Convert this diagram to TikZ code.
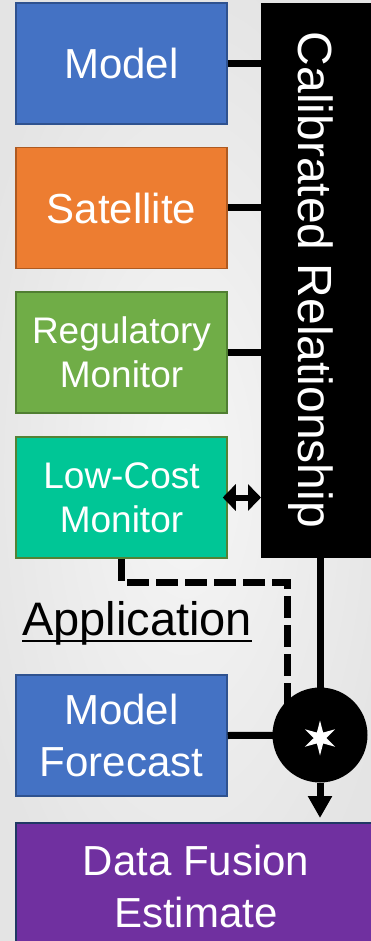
\documentclass[tikz,border=0pt]{standalone}
\usepackage{fontspec}
\setmainfont{Liberation Sans}
\usetikzlibrary{arrows.meta,shapes.geometric}
\definecolor{cblue}{HTML}{4472C4}
\definecolor{bblue}{HTML}{2F528F}
\definecolor{corange}{HTML}{ED7D31}
\definecolor{borange}{HTML}{AE5A21}
\definecolor{cgreen}{HTML}{70AD47}
\definecolor{bgreen}{HTML}{507E32}
\definecolor{cteal}{RGB}{0,198,150}
\definecolor{bteal}{HTML}{548235}
\definecolor{cpurple}{HTML}{7030A0}
\definecolor{bpurple}{HTML}{203864}
\definecolor{bginner}{RGB}{246,246,246}
\definecolor{bgouter}{RGB}{228,228,228}
\tikzset{
  box/.style={rectangle, minimum width=211pt, minimum height=121pt, line width=1.5pt, text=white, align=center, inner sep=0pt},
  bigtxt/.style={font=\fontsize{42}{52}\selectfont},
  smalltxt/.style={font=\fontsize{37}{44}\selectfont},
  conn/.style={line width=7pt, draw=black},
  dline/.style={line width=7pt, draw=black, dash pattern=on 22pt off 7pt},
}
\begin{document}
\begin{tikzpicture}[x=1pt,y=-1pt]
\useasboundingbox (0,0) rectangle (371,941);
\clip (0,0) rectangle (371,941);
\shade[inner color=bginner, outer color=bgouter] (-40,-40) rectangle (411,981);

% black bar
\node[fill=black, minimum width=112pt, minimum height=555pt, anchor=north west, inner sep=0pt] (bar) at (261,3) {};
\node[white, rotate=-90, anchor=base, font=\fontsize{48}{56}\selectfont, inner sep=0pt] (cal) at (298,280) {Calibrated Relationship};

% source boxes
\node[box, bigtxt, fill=cblue, draw=bblue] (model) at (121.5,63.5) {Model};
\node[box, bigtxt, fill=corange, draw=borange] (sat) at (121.5,208) {Satellite};
\node[box, smalltxt, fill=cgreen, draw=bgreen] (reg) at (121.5,352.5) {Regulatory\\Monitor};
\node[box, smalltxt, fill=cteal, draw=bteal] (lc) at (121.5,497.5) {Low-Cost\\Monitor};

% application
\node[anchor=base west, inner sep=0pt, font=\fontsize{47}{56}\selectfont] (app) at (22,635) {Application};
\draw[line width=2.5pt] ([yshift=-6pt]app.base west) -- ([yshift=-6pt]app.base east);

\node[box, bigtxt, fill=cblue, draw=bblue] (mf) at (121.5,735.5) {Model\\Forecast};
\node[box, bigtxt, fill=cpurple, draw=bpurple, line width=2pt, minimum width=360pt, minimum height=126pt] (df) at (196,886) {Data Fusion\\Estimate};

% connectors
\draw[conn] (model.east) -- (model.east -| bar.west);
\draw[conn] (sat.east) -- (sat.east -| bar.west);
\draw[conn] (reg.east) -- (reg.east -| bar.west);
\draw[line width=6pt, {Triangle[width=26pt,length=13pt]}-{Triangle[width=26pt,length=13pt]}] ([xshift=-5pt]lc.east) -- (lc.east -| bar.west);

\coordinate (circc) at (320,735);
\coordinate (dc) at (287,582);
\draw[dline] (lc.south) |- (dc) -- (dc |- circc);
\draw[conn] (circc |- bar.south) -- (circc);
\draw[conn] (mf.east) -- (circc);

\node[circle, fill=black, minimum size=95pt, inner sep=0pt] (circ) at (circc) {};
\node[star, star points=6, star point ratio=2.8, fill=white, minimum size=35pt, inner sep=0pt] (star) at (320,738) {};

\draw[conn, -{Triangle[width=23pt,length=22pt]}, shorten >=4pt] (circ.south) -- (circ.south |- df.north);
\end{tikzpicture}
\end{document}
